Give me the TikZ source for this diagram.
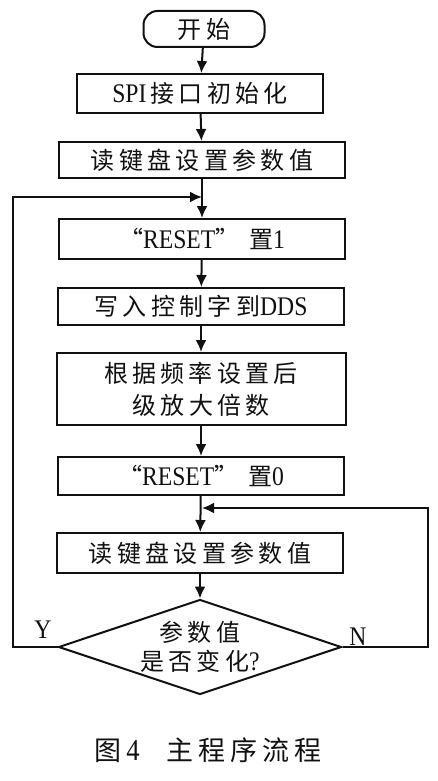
\documentclass[tikz,border=0pt]{standalone}
\usepackage{fontspec}
\usetikzlibrary{positioning,arrows.meta,shapes.geometric,calc}
\setmainfont{Liberation Serif}[FakeStretch=0.9]
\newfontfamily\cjk{Noto Sans CJK SC}[LetterSpace=18]
\newfontfamily\lat{Liberation Serif}[FakeStretch=0.88,Scale=1.12]
\definecolor{flowInk}{HTML}{111111}

\begin{document}
\begin{tikzpicture}[x=1pt,y=-1pt,line width=2pt,flowInk,
      font=\fontsize{24}{32}\selectfont\cjk,
      proc/.style={draw=flowInk,fill=white,align=center,minimum width=286pt,minimum height=38pt,inner sep=0pt},
      term/.style={draw=flowInk,rounded corners=14pt,minimum width=121pt,minimum height=36pt,inner sep=0pt},
      decide/.style={draw=flowInk,diamond,aspect=3,minimum width=283pt,minimum height=95pt,inner sep=0pt,align=center},
      flow/.style={-{Latex[length=12pt,width=11pt]},draw=flowInk}]
      \useasboundingbox (0,0) rectangle (438,781);
      \node[term] (start) at (204,29) {开始};
      \node[proc,minimum width=246pt,minimum height=39pt] (spi) at (200,93.5) {{\lat SPI}\,接口初始化};
      \node[proc,minimum height=36pt] (read1) at (202,160) {读键盘设置参数值};
      \node[proc,minimum height=40pt] (reset1) at (202,239) {“{\lat RESET}” 置{\lat 1}};
      \node[proc,minimum height=37pt] (dds) at (201,306.5) {写入控制字到{\lat DDS}};
      \node[proc,minimum width=289pt,minimum height=72pt] (amp) at (201,389) {根据频率设置后\\级放大倍数};
      \node[proc,minimum height=38pt] (reset0) at (201,476) {“{\lat RESET}” 置{\lat 0}};
      \node[proc,minimum height=40pt] (read2) at (200,553) {读键盘设置参数值};
      \node[decide] (chg) at (200,647) {参数值\\[-3pt]是否变化{\lat ?}};
      \coordinate (jl) at (202,197);
      \coordinate (jr) at (202,508);
      \coordinate (cl) at (13,647);
      \coordinate (cr) at (428,647);
      \node[font=\fontsize{24}{30}\selectfont\lat] (yes) at (43,630) {Y};
      \node[font=\fontsize{24}{30}\selectfont\lat] (no) at (358,637) {N};
      \node[font=\fontsize{27}{32}\selectfont\cjk] (cap) at (208,750) {图\,{\lat 4}\quad 主程序流程};
      \draw[flow] (start)--(spi);
      \draw[flow] (spi)--(read1);
      \draw[flow] (read1)--(reset1);
      \draw[flow] (reset1)--(dds);
      \draw[flow] (dds)--(amp);
      \draw[flow] (amp)--(reset0);
      \draw[flow] (reset0)--(read2);
      \draw[flow] (read2)--(chg);
      \draw[flow] (chg.west)--(cl)--(cl|-jl)--(jl);
      \draw[flow] (chg.east)--(cr)--(cr|-jr)--(jr);
    \end{tikzpicture}
\end{document}
